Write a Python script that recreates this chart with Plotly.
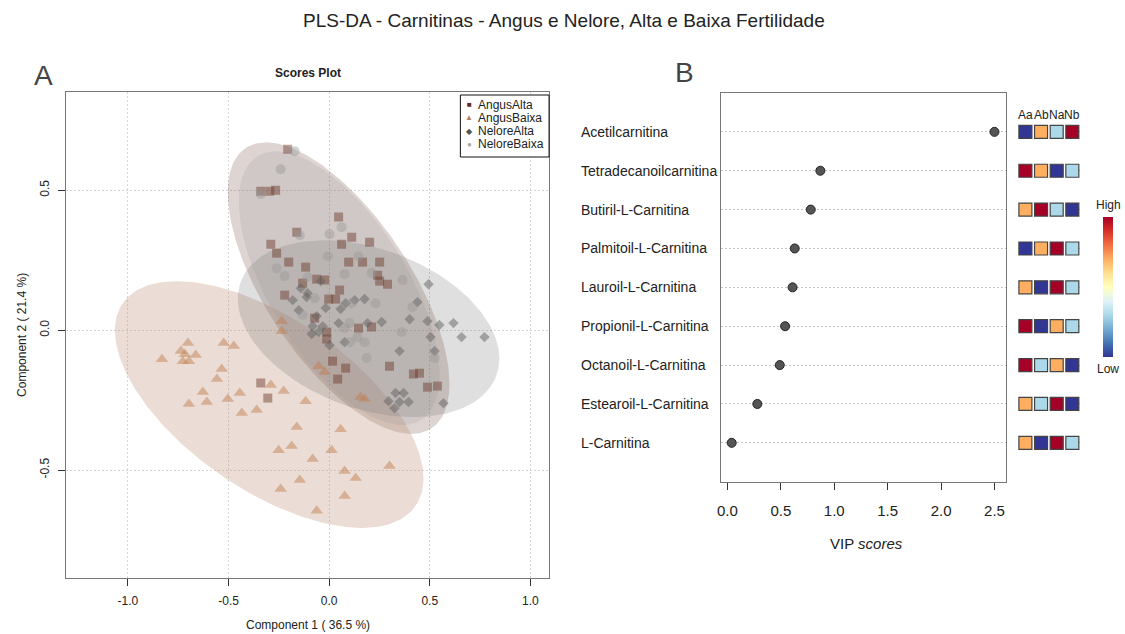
import numpy as np
import plotly.graph_objects as go

W, H = 1125, 634
FONT = "Liberation Sans, Arial, sans-serif"

# ---------------- Scores plot data (Component 1, Component 2) ----------------
groups = ["AngusAlta", "AngusBaixa", "NeloreAlta", "NeloreBaixa"]

angus_alta_x = [-0.206, -0.340, -0.295, -0.266, -0.161, -0.290, -0.261, -0.201, -0.117, -0.132,
                0.047, 0.112, 0.062, 0.201, 0.097, 0.166, 0.251, 0.241, 0.251, 0.290,
                -0.062, -0.022, 0.052, -0.002, 0.032, -0.072, -0.012, -0.012, 0.146, 0.211,
                0.017, 0.082, 0.042, 0.300, 0.419, 0.449, 0.489, 0.538, -0.340, -0.305, -0.221]
angus_alta_y = [0.646, 0.496, 0.496, 0.500, 0.350, 0.307, 0.275, 0.243, 0.225, 0.168,
                0.404, 0.332, 0.307, 0.314, 0.243, 0.243, 0.243, 0.196, 0.175, 0.164,
                0.182, 0.179, 0.143, 0.111, 0.111, 0.043, -0.007, -0.032, 0.007, 0.011,
                -0.111, -0.136, -0.175, -0.129, -0.157, -0.154, -0.204, -0.200, -0.189, -0.243, 0.125]

angus_baixa_x = [-0.702, -0.737, -0.717, -0.663, -0.831, -0.727, -0.697, -0.524, -0.474, -0.534,
                 -0.558, -0.628, -0.608, -0.697, -0.504, -0.444, -0.434, -0.360, -0.290, -0.226,
                 -0.236, -0.236, -0.117, -0.161, -0.251, -0.186, -0.082, -0.146, -0.052, -0.022,
                 0.156, 0.176, 0.057, 0.012, 0.300, 0.077, 0.132, -0.241, 0.077, -0.062]
angus_baixa_y = [-0.046, -0.075, -0.086, -0.089, -0.104, -0.111, -0.111, -0.046, -0.057, -0.139,
                 -0.175, -0.221, -0.257, -0.264, -0.246, -0.225, -0.296, -0.286, -0.196, -0.218,
                 0.032, -0.004, -0.254, -0.346, -0.429, -0.414, -0.461, -0.536, -0.129, -0.150,
                 -0.239, -0.246, -0.354, -0.429, -0.486, -0.504, -0.529, -0.568, -0.593, -0.646]

nelore_alta_x = [-0.107, -0.017, 0.057, 0.082, 0.176, 0.047, -0.052, -0.082, -0.032, 0.077,
                 0.191, 0.261, 0.350, 0.400, 0.439, 0.489, 0.548, 0.618, 0.658, 0.772,
                 0.504, 0.524, 0.494, 0.330, 0.370, 0.295, 0.350, 0.395, 0.325, 0.568,
                 -0.042, -0.181, -0.141, -0.112, -0.151, -0.062, 0.002, -0.087, 0.127]
nelore_alta_y = [0.132, 0.079, 0.075, 0.096, 0.111, 0.025, -0.007, 0.014, 0.014, -0.043,
                 0.025, 0.029, -0.075, 0.039, 0.100, 0.032, 0.018, 0.025, -0.025, -0.025,
                 -0.025, -0.075, 0.164, -0.225, -0.225, -0.254, -0.257, -0.257, -0.279, -0.261,
                 0.175, 0.107, 0.150, 0.118, 0.071, 0.050, -0.054, -0.014, 0.107]

nelore_baixa_x = [-0.171, -0.241, -0.340, -0.146, -0.261, -0.221, -0.107, 0.062, 0.002, -0.007,
                  0.146, 0.077, 0.211, 0.365, 0.112, 0.231, 0.102, 0.077, 0.141, 0.102,
                  0.176, 0.186, 0.360, 0.414, 0.524, -0.132, -0.072]
nelore_baixa_y = [0.639, 0.575, 0.486, 0.339, 0.221, 0.193, 0.189, 0.368, 0.343, 0.264,
                  0.264, 0.200, 0.204, 0.179, 0.096, 0.096, 0.025, 0.007, -0.025, -0.043,
                  -0.043, -0.100, -0.007, 0.082, -0.100, 0.054, 0.114]

# 95% confidence regions: centre, half-extent along each axis, correlation
ellipse_cx = [0.047, -0.298, 0.196, 0.050]
ellipse_cy = [0.150, -0.266, 0.005, 0.150]
ellipse_hx = [0.551, 0.767, 0.650, 0.499]
ellipse_hy = [0.521, 0.441, 0.316, 0.489]
ellipse_rho = [-0.657, -0.600, -0.340, -0.630]

# ---------------- VIP data ----------------
metabolites = ["Acetilcarnitina", "Tetradecanoilcarnitina", "Butiril-L-Carnitina",
               "Palmitoil-L-Carnitina", "Lauroil-L-Carnitina", "Propionil-L-Carnitina",
               "Octanoil-L-Carnitina", "Estearoil-L-Carnitina", "L-Carnitina"]
vip_scores = [2.50, 0.87, 0.78, 0.63, 0.61, 0.54, 0.49, 0.28, 0.04]
group_codes = ["Aa", "Ab", "Na", "Nb"]
# relative concentration level per group (1 = lowest, 4 = highest)
levels = [[1, 3, 2, 4],
          [4, 3, 1, 2],
          [3, 4, 2, 1],
          [1, 3, 4, 2],
          [3, 1, 4, 2],
          [4, 1, 3, 2],
          [4, 2, 3, 1],
          [3, 2, 4, 1],
          [3, 1, 4, 2]]

score_ticks = [-1.0, -0.5, 0.0, 0.5, 1.0]
score_tick_text = ["-1.0", "-0.5", "0.0", "0.5", "1.0"]
score_yticks = [-0.5, 0.0, 0.5]
score_ytick_text = ["-0.5", "0.0", "0.5"]
vip_ticks = [0.0, 0.5, 1.0, 1.5, 2.0, 2.5]

# ---------------- styling ----------------
group_fill = ["rgba(92,46,32,0.20)", "rgba(190,142,115,0.30)",
              "rgba(85,85,85,0.19)", "rgba(150,150,150,0.20)"]
group_marker = ["rgba(110,60,45,0.48)", "rgba(191,125,80,0.48)",
                "rgba(95,95,95,0.48)", "rgba(150,150,150,0.42)"]
group_legend = ["#5A2D20", "#B8805C", "#555555", "#AAAAAA"]
group_symbol = ["square", "triangle-up", "diamond", "circle"]
group_size = [9, 11, 8, 10]
legend_glyph = ["\u25A0", "\u25B2", "\u25C6", "\u25CF"]
level_colors = {1: "#313695", 2: "#ABD9E9", 3: "#FDAE61", 4: "#A50026"}
rdylbu = [[0.0, "#313695"], [0.1, "#4575B4"], [0.2, "#74ADD1"], [0.3, "#ABD9E9"],
          [0.4, "#E0F3F8"], [0.5, "#FFFFBF"], [0.6, "#FEE090"], [0.7, "#FDAE61"],
          [0.8, "#F46D43"], [0.9, "#D73027"], [1.0, "#A50026"]]


def px(x):
    return x / W


def py(y):
    return 1 - y / H


fig = go.Figure()

# confidence ellipses
t = np.linspace(0, 2 * np.pi, 241)
for i in range(4):
    ex = ellipse_cx[i] + ellipse_hx[i] * np.cos(t)
    ey = ellipse_cy[i] + ellipse_hy[i] * (ellipse_rho[i] * np.cos(t)
                                          + np.sqrt(1 - ellipse_rho[i] ** 2) * np.sin(t))
    fig.add_trace(go.Scatter(x=ex, y=ey, mode="lines", fill="toself",
                             fillcolor=group_fill[i], line=dict(width=0),
                             hoverinfo="skip", showlegend=False,
                             xaxis="x", yaxis="y"))

score_x = [angus_alta_x, angus_baixa_x, nelore_alta_x, nelore_baixa_x]
score_y = [angus_alta_y, angus_baixa_y, nelore_alta_y, nelore_baixa_y]
for i in range(4):
    fig.add_trace(go.Scatter(x=score_x[i], y=score_y[i], mode="markers", name=groups[i],
                             marker=dict(symbol=group_symbol[i], size=group_size[i],
                                         color=group_marker[i], line=dict(width=0)),
                             showlegend=False, xaxis="x", yaxis="y"))

# VIP dots
rows = list(range(1, len(metabolites) + 1))
fig.add_trace(go.Scatter(x=vip_scores, y=rows, mode="markers",
                         marker=dict(symbol="circle", size=9, color="#555555",
                                     line=dict(color="#222222", width=1)),
                         showlegend=False, xaxis="x2", yaxis="y2"))

# group level squares
sq_x, sq_y, sq_c = [], [], []
for r, row in enumerate(levels):
    for c, lv in enumerate(row):
        sq_x.append(c + 1)
        sq_y.append(r + 1)
        sq_c.append(level_colors[lv])
fig.add_trace(go.Scatter(x=sq_x, y=sq_y, mode="markers",
                         marker=dict(symbol="square", size=13, color=sq_c,
                                     line=dict(color="#444444", width=1.2)),
                         showlegend=False, xaxis="x3", yaxis="y2"))

# colour key
fig.add_trace(go.Scatter(x=[None], y=[None], mode="markers", showlegend=False,
                         marker=dict(color=[0], cmin=0, cmax=1, colorscale=rdylbu,
                                     showscale=True,
                                     colorbar=dict(x=px(1103), xanchor="left", xpad=0, ypad=0,
                                                   y=py(287), yanchor="middle",
                                                   len=140, lenmode="pixels",
                                                   thickness=10, outlinewidth=0,
                                                   showticklabels=False, ticks="")),
                         xaxis="x2", yaxis="y2"))

axis_font = dict(family=FONT, size=12, color="#222222")
fig.update_layout(
    width=W, height=H,
    margin=dict(l=0, r=0, t=0, b=0),
    paper_bgcolor="white", plot_bgcolor="white",
    font=dict(family=FONT, color="#222222"),
    showlegend=False,
    xaxis=dict(domain=[px(62), px(547)], range=[-1.309, 1.093],
               tickvals=score_ticks, ticktext=score_tick_text,
               showgrid=True, gridcolor="#D6D6D6", griddash="2px,2px", gridwidth=1,
               zeroline=False, showline=True, mirror=True, linecolor="#777777",
               ticks="outside", ticklen=7, tickcolor="#333333",
               tickfont=axis_font, ticklabelstandoff=5, anchor="y"),
    yaxis=dict(domain=[py(578), py(92)], range=[-0.886, 0.851],
               tickvals=score_yticks, ticktext=score_ytick_text, tickangle=-90,
               showgrid=True, gridcolor="#D6D6D6", griddash="2px,2px", gridwidth=1,
               zeroline=False, showline=True, mirror=True, linecolor="#777777",
               ticks="outside", ticklen=7, tickcolor="#333333",
               tickfont=axis_font, ticklabelstandoff=4, anchor="x"),
    xaxis2=dict(domain=[px(720), px(1006)], range=[-0.056, 2.612],
                tickvals=vip_ticks, tickformat=".1f",
                showgrid=False, zeroline=False, showline=True, mirror=True,
                linecolor="#777777", ticks="outside", ticklen=7, tickcolor="#333333",
                tickfont=dict(family=FONT, size=15, color="#222222"),
                ticklabelstandoff=8, anchor="y2"),
    yaxis2=dict(domain=[py(481.7), py(93)], range=[10, 0],
                tickvals=rows, showticklabels=False,
                showgrid=True, gridcolor="#C4C4C4", griddash="2px,2px", gridwidth=1,
                zeroline=False, showline=True, mirror=True, linecolor="#777777",
                ticks="", anchor="x2"),
    xaxis3=dict(domain=[px(1017.2), px(1080)], range=[0.5, 4.5], visible=False,
                anchor="y2"),
)

ann = []
# titles and panel letters
ann.append(dict(x=px(562), y=py(20), text="PLS-DA - Carnitinas - Angus e Nelore, Alta e Baixa Fertilidade",
                font=dict(size=19, color="#222222")))
ann.append(dict(x=px(40), y=py(75), text="A", font=dict(size=28, color="#444444")))
ann.append(dict(x=px(683), y=py(73), text="B", font=dict(size=28, color="#444444")))
ann.append(dict(x=px(305), y=py(73), text="<b>Scores Plot</b>", font=dict(size=12, color="#222222")))
ann.append(dict(x=px(305), y=py(625), text="Component 1 ( 36.5 %)", font=dict(size=12, color="#222222")))
ann.append(dict(x=px(18), y=py(335), text="Component 2 ( 21.4 %)", textangle=-90,
                font=dict(size=12, color="#222222")))
ann.append(dict(x=px(866), y=py(543), text="VIP <i>scores</i>", font=dict(size=15, color="#222222")))

# legend of the scores plot
legend_rows = [105, 118, 131, 144]
for i in range(4):
    ann.append(dict(x=px(467), y=py(legend_rows[i]), text=legend_glyph[i],
                    font=dict(size=8, color=group_legend[i])))
    ann.append(dict(x=px(474), y=py(legend_rows[i]), text=groups[i], xanchor="left",
                    font=dict(size=12, color="#222222")))

# metabolite names, left aligned
for r, name in enumerate(metabolites):
    ann.append(dict(x=px(577), y=r + 1, yref="y2", text=name, xanchor="left",
                    font=dict(size=14, color="#222222")))

# group headers above the squares
for c, code in enumerate(group_codes):
    ann.append(dict(x=c + 1, xref="x3", y=0.56, yref="y2", text=code,
                    font=dict(size=12, color="#222222")))

ann.append(dict(x=px(1108), y=py(205), text="High", font=dict(size=12, color="#222222")))
ann.append(dict(x=px(1108), y=py(369), text="Low", font=dict(size=12, color="#222222")))

for a in ann:
    a.setdefault("xref", "paper")
    a.setdefault("yref", "paper")
    a.setdefault("showarrow", False)
    a.setdefault("xanchor", "center")
    a.setdefault("yanchor", "middle")
    a["font"].setdefault("family", FONT)
fig.update_layout(annotations=ann)

fig.add_shape(type="rect", xref="paper", yref="paper",
              x0=px(458), x1=px(547), y0=py(157), y1=py(95),
              line=dict(color="#111111", width=1), fillcolor="white")

fig.write_html("out.html")
